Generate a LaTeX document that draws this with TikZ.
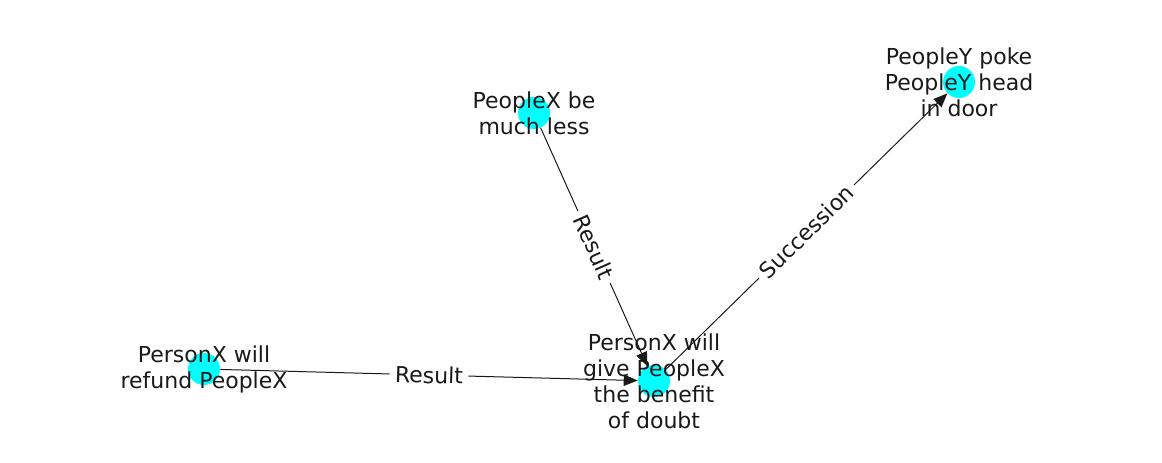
\documentclass[tikz,border=0pt]{standalone}
\usepackage{fontspec}
\setmainfont{DejaVu Sans}
\usetikzlibrary{arrows.meta}
\definecolor{nodecyan}{RGB}{0,255,255}
\tikzset{
    >={Triangle[length=10.5pt,width=8.5pt]},
    event/.style={circle,fill=nodecyan,minimum size=24pt,inner sep=0pt},
    event_text/.style={align=center,font=\fontsize{16.5}{19.5}\selectfont,text=black!90},
    relation/.style={fill=white,inner sep=4pt,font=\fontsize{16.5}{19.5}\selectfont,text=black!90},
    every edge/.append style={line width=0.75pt,black!90},
}
\begin{document}
\begin{tikzpicture}[x=0.75pt,y=-0.75pt]
    \useasboundingbox (0,0) rectangle (1162,462);

    \node[event] (poke) at (959, 82) {};
    \node[event] (less) at (534, 113) {};
    \node[event] (refund) at (204, 369) {};
    \node[event] (give) at (654, 381) {};

    \path (refund) edge[->] node[relation,sloped] (r1) {Result} (give)
          (less) edge[->] node[relation,sloped] (r2) {Result} (give)
          (give) edge[->] node[relation,sloped] (r3) {Succession} (poke);

    \node[event_text] (poke_text) at (poke) {PeopleY poke\\PeopleY head\\in door};
    \node[event_text] (less_text) at (less) {PeopleX be\\much less};
    \node[event_text] (refund_text) at (refund) {PersonX will\\refund PeopleX};
    \node[event_text] (give_text) at (give) {PersonX will\\give PeopleX\\the benefit\\of doubt};
\end{tikzpicture}
\end{document}
